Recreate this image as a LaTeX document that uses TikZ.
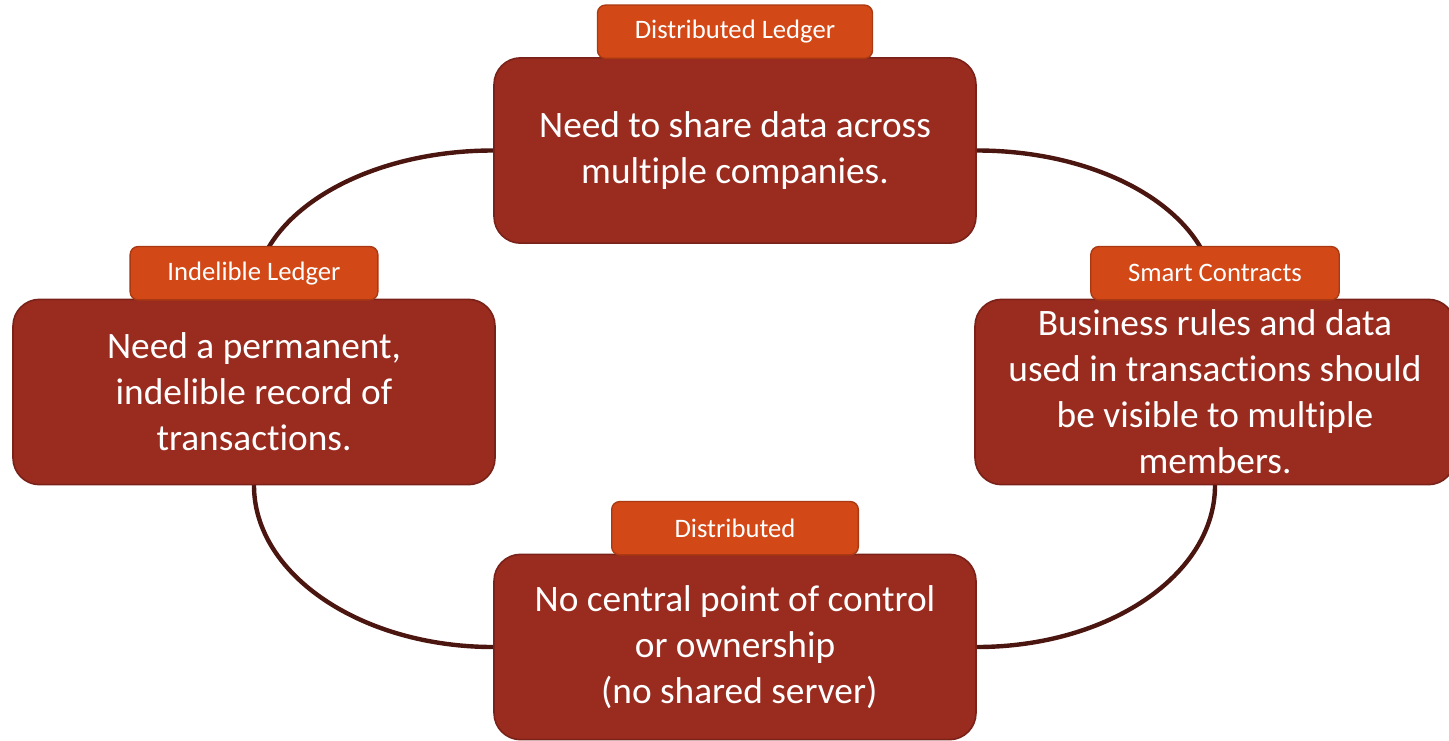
\documentclass[tikz,border=0pt]{standalone}
\usepackage{fontspec}
\setmainfont[RawFeature={-liga,-clig,-dlig,-calt}]{Carlito}
\usetikzlibrary{positioning,backgrounds}
\definecolor{ledgerRed}{HTML}{992B1F}
\definecolor{ledgerEdge}{HTML}{7A2219}
\definecolor{tabOrange}{HTML}{D24817}
\definecolor{tabEdge}{HTML}{A93913}
\definecolor{ringBrown}{HTML}{4B1510}

\begin{document}
\begin{tikzpicture}[x=0.75pt,y=-0.75pt,
    mainbox/.style={draw=ledgerEdge,line width=1.2pt,fill=ledgerRed,
      rounded corners=20pt,minimum width=361.5pt,minimum height=139pt,
      inner ysep=2pt,align=center,text=white,
      font=\fontsize{28}{34.5}\selectfont},
    tabbox/.style={draw=tabEdge,line width=1pt,fill=tabOrange,
      rounded corners=6pt,minimum width=185pt,minimum height=40pt,
      inner xsep=28pt,text=white,font=\fontsize{20}{24}\selectfont},
    ring/.style={draw=ringBrown,line width=3.3pt}]
  \clip (0,0) rectangle (1449,740);
  % requirement boxes
  \node[mainbox] (share) at (735,150.5) {Need to share data across\\multiple companies.};
  \node[mainbox] (record) at (254,392) {Need a permanent,\\indelible record of\\transactions.};
  \node[mainbox,minimum width=360pt] (rules) at (1215,392) {Business rules and data\\used in transactions should\\be visible to multiple\\members.};
  \node[mainbox] (control) at (735,647) {No central point of control\\or ownership\\~(no shared server)};
  % labels on top
  \node[tabbox,above=-1.5pt of share.north] (distledger) {Distributed Ledger};
  \node[tabbox,above=-1.5pt of record.north] (indelible) {Indelible Ledger};
  \node[tabbox,above=-1.5pt of rules.north] (smart) {Smart Contracts};
  \node[tabbox,above=-1.5pt of control.north] (distributed) {Distributed};
  % ring behind the boxes
  \begin{scope}[on background layer]
    \draw[ring] (share.west) .. controls +(-132,0) and +(0,-82) .. (record.north)
      -- (record.south) .. controls +(0,89) and +(-132,0) .. (control.west)
      -- (control.east) .. controls +(132,0) and +(0,89) .. (rules.south)
      -- (rules.north) .. controls +(0,-82) and +(132,0) .. (share.east) -- cycle;
  \end{scope}
\end{tikzpicture}
\end{document}
